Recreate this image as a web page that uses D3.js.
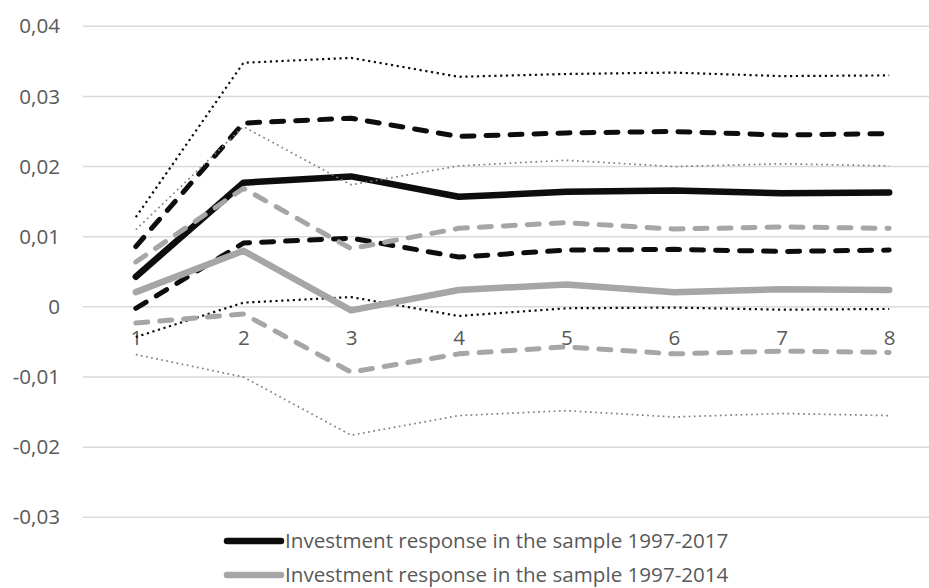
<!DOCTYPE html>
<html>
<head>
<meta charset="utf-8">
<script src="https://cdn.jsdelivr.net/npm/d3@7"></script>
<style>
  html, body { margin: 0; padding: 0; background: #fff; }
  svg { display: block; }
  text { font-family: "Open Sans", Lato, sans-serif; fill: #595959; }
</style>
</head>
<body>
<svg id="chart" width="929" height="588"></svg>
<script>
// Horizons (quarters after the shock)
const categories = [1, 2, 3, 4, 5, 6, 7, 8];

// Sample 1997-2017: point response and confidence bands
const resp2017 = [0.0043, 0.0177, 0.0186, 0.0157, 0.0164, 0.0166, 0.0162, 0.0163];
const inner2017Upper = [0.0086, 0.0262, 0.0269, 0.0243, 0.0248, 0.0250, 0.0245, 0.0247];
const inner2017Lower = [-0.0002, 0.0091, 0.0098, 0.0071, 0.0081, 0.0082, 0.0079, 0.0081];
const outer2017Upper = [0.0128, 0.0348, 0.0355, 0.0328, 0.0332, 0.0334, 0.0329, 0.0330];
const outer2017Lower = [-0.0043, 0.0006, 0.0014, -0.0013, -0.0002, -0.0001, -0.0004, -0.0003];

// Sample 1997-2014: point response and confidence bands
const resp2014 = [0.0021, 0.0080, -0.0005, 0.0024, 0.0032, 0.0021, 0.0025, 0.0024];
const inner2014Upper = [0.0064, 0.0169, 0.0083, 0.0112, 0.0120, 0.0111, 0.0114, 0.0112];
const inner2014Lower = [-0.0023, -0.0010, -0.0093, -0.0067, -0.0057, -0.0067, -0.0063, -0.0065];
const outer2014Upper = [0.0110, 0.0257, 0.0174, 0.0201, 0.0209, 0.0200, 0.0204, 0.0201];
const outer2014Lower = [-0.0068, -0.0100, -0.0183, -0.0155, -0.0148, -0.0157, -0.0152, -0.0155];

const yTicks = [-0.03, -0.02, -0.01, 0, 0.01, 0.02, 0.03, 0.04];

const legendLabels = [
  "Investment response in the sample 1997-2017",
  "Investment response in the sample 1997-2014"
];

const BLACK = "#0d0d0d";
const GRAY = "#a6a6a6";
const GRAY_DOT = "#7f7f7f";
const FONT = "'Open Sans', Lato, sans-serif";
const FONT_SIZE = 20.6;

const svg = d3.select("#chart");

const x = d3.scalePoint().domain(categories).range([82, 943]).padding(0.5);
const y = d3.scaleLinear().domain([-0.03, 0.04]).range([517.3, 26.3]);

const fmt = v => v === 0 ? "0" : d3.format(".2f")(v).replace(".", ",").replace("−", "-");

// Horizontal gridlines
svg.append("g")
  .selectAll("line")
  .data(yTicks)
  .join("line")
  .attr("x1", 83).attr("x2", 943)
  .attr("y1", d => y(d)).attr("y2", d => y(d))
  .attr("stroke", "#d9d9d9")
  .attr("stroke-width", 1.5);

// Value axis labels
const yAxis = d3.axisLeft(y).tickValues(yTicks).tickFormat(fmt).tickSize(0).tickPadding(0);
svg.append("g")
  .attr("transform", "translate(60,0)")
  .call(yAxis)
  .call(g => g.select(".domain").remove())
  .call(g => g.selectAll("text")
    .style("font-family", FONT)
    .attr("font-size", FONT_SIZE)
    .attr("fill", "#595959"));

// Category labels below the zero line
const xAxis = d3.axisBottom(x).tickSize(0).tickPadding(0);
svg.append("g")
  .attr("transform", `translate(0,${y(0) + 23})`)
  .call(xAxis)
  .call(g => g.select(".domain").remove())
  .call(g => g.selectAll("text")
    .style("font-family", FONT)
    .attr("font-size", FONT_SIZE)
    .attr("fill", "#595959"));

const line = d3.line()
  .x((d, i) => x(categories[i]))
  .y(d => y(d));

const series = [
  { values: outer2017Upper, color: BLACK, width: 2.2, dash: "2.2,3.6", cap: "butt" },
  { values: outer2017Lower, color: BLACK, width: 2.2, dash: "2.2,3.6", cap: "butt" },
  { values: inner2017Upper, color: BLACK, width: 5, dash: "12,12", cap: "round" },
  { values: inner2017Lower, color: BLACK, width: 5, dash: "12,12", cap: "round" },
  { values: resp2017, color: BLACK, width: 6.5, dash: null, cap: "round" },
  { values: outer2014Upper, color: GRAY_DOT, width: 1.7, dash: "1.7,3.5", cap: "butt" },
  { values: outer2014Lower, color: GRAY_DOT, width: 1.7, dash: "1.7,3.5", cap: "butt" },
  { values: inner2014Upper, color: GRAY, width: 5, dash: "12,12", cap: "round" },
  { values: inner2014Lower, color: GRAY, width: 5, dash: "12,12", cap: "round" },
  { values: resp2014, color: GRAY, width: 6.5, dash: null, cap: "round" }
];

svg.append("g")
  .selectAll("path")
  .data(series)
  .join("path")
  .attr("d", d => line(d.values))
  .attr("fill", "none")
  .attr("stroke", d => d.color)
  .attr("stroke-width", d => d.width)
  .attr("stroke-dasharray", d => d.dash)
  .attr("stroke-linecap", d => d.cap)
  .attr("stroke-linejoin", "round");

// Legend
const legend = svg.append("g");
const legendItems = [
  { label: legendLabels[0], color: BLACK, y: 541 },
  { label: legendLabels[1], color: GRAY, y: 575 }
];
const li = legend.selectAll("g").data(legendItems).join("g")
  .attr("transform", d => `translate(0,${d.y})`);
li.append("line")
  .attr("x1", 227).attr("x2", 281)
  .attr("stroke", d => d.color)
  .attr("stroke-width", 6.5)
  .attr("stroke-linecap", "round");
li.append("text")
  .attr("x", 285)
  .attr("dy", "0.35em")
  .style("font-family", FONT)
  .attr("font-size", FONT_SIZE)
  .text(d => d.label);
</script>
</body>
</html>
